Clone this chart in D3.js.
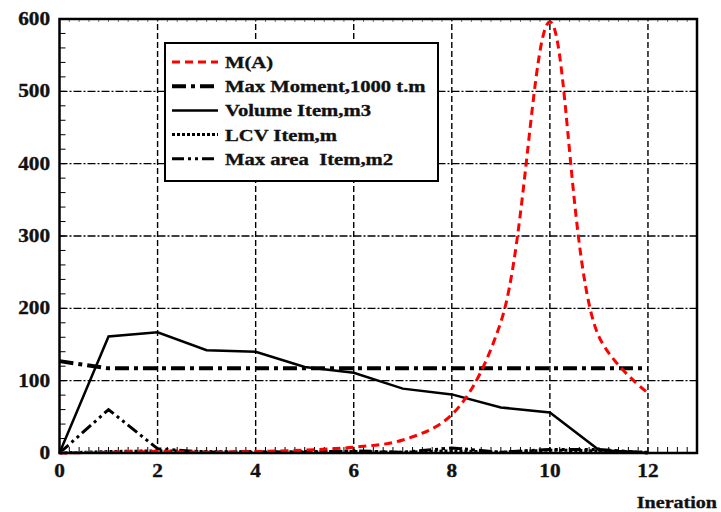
<!DOCTYPE html>
<html>
<head>
<meta charset="UTF-8">
<title>Iteration chart</title>
<script src="https://d3js.org/d3.v7.min.js"></script>
<style>
body{margin:0;background:#fff;}
text{font-family:"Liberation Serif","Times New Roman",serif;font-weight:bold;fill:#111;stroke:#111;stroke-width:0.35px;}
</style>
</head>
<body>
<svg id="chart" width="721" height="512"></svg>
<script>
// data
let iterations=[0,1,2,3,4,5,6,7,8,9,10,11,12]
let mA=[0,1,2,1,2,4,8,18,53,181,596,161,83]
let maxMoment=[127,117,117,117,117,117,117,117,117,117,117,117,117]
let volume=[0,161,167,142,140,119,111,89,81,63,56,4,0]
let lcv=[0,2,3,2,1,2,2,1,3,1,4,3,1]
let maxArea=[0,60,6,1,2,1,3,1,7,1,5,5,0]
let yTicks=[0,100,200,300,400,500,600]
let xTicks=[0,2,4,6,8,10,12]
let legendNames=["M(A)","Max Moment,1000 t.m","Volume Item,m3","LCV Item,m","Max area  Item,m2"]

let svg=d3.select("#chart")
let x=d3.scaleLinear().domain([0,13]).range([59.5,697])
let y=d3.scaleLinear().domain([0,600]).range([453,19])

// the reference font is wide, so stretch the text a bit
function label(parent,px,py,anchor,size,txt){
	let g=parent.append("g").attr("transform","translate("+px+","+py+") scale(1.18,1)")
	g.append("text").attr("text-anchor",anchor).attr("font-size",size)
		.attr("xml:space","preserve").text(txt)
}

// grid
svg.append("g").selectAll("line").data(xTicks.filter(d=>d>0)).enter().append("line")
	.attr("x1",d=>x(d)).attr("x2",d=>x(d)).attr("y1",y(0)).attr("y2",y(600))
	.attr("stroke","#000").attr("stroke-width",1.4).attr("stroke-dasharray","6,3")
svg.append("g").selectAll("line").data(yTicks.filter(d=>d>0&&d<600)).enter().append("line")
	.attr("x1",x(0)).attr("x2",x(13)).attr("y1",d=>y(d)).attr("y2",d=>y(d))
	.attr("stroke","#000").attr("stroke-width",1.4).attr("stroke-dasharray","8,2,2,2")

// minor ticks
let yMinor=d3.range(0,601,20)
svg.append("g").selectAll("line").data(yMinor).enter().append("line")
	.attr("x1",x(0)).attr("x2",x(0)+6).attr("y1",d=>y(d)).attr("y2",d=>y(d))
	.attr("stroke","#000").attr("stroke-width",1)
let xMinor=d3.range(0,13.01,0.2)
svg.append("g").selectAll("line").data(xMinor).enter().append("line")
	.attr("x1",d=>x(d)).attr("x2",d=>x(d)).attr("y1",y(0)).attr("y2",y(0)-6)
	.attr("stroke","#000").attr("stroke-width",1)
svg.append("g").selectAll("line").data(xMinor).enter().append("line")
	.attr("x1",d=>x(d)).attr("x2",d=>x(d)).attr("y1",y(600)).attr("y2",y(600)+3)
	.attr("stroke","#555").attr("stroke-width",0.8)

// series
let series=[
	{v:lcv,color:"#000",w:3,dash:"3,2",curve:d3.curveLinear},
	{v:maxArea,color:"#000",w:3,dash:"12,4,3,4,3,4",curve:d3.curveLinear},
	{v:volume,color:"#000",w:2.5,dash:null,curve:d3.curveLinear},
	{v:maxMoment,color:"#000",w:4,dash:"14,5,4,5",curve:d3.curveLinear},
	{v:mA,color:"#ff0000",w:3,dash:"8,5",curve:d3.curveCatmullRom.alpha(0.5)}
]
series.forEach(s=>{
	let line=d3.line().x((d,i)=>x(iterations[i])).y(d=>y(d)).curve(s.curve)
	svg.append("path").datum(s.v).attr("d",line).attr("fill","none")
		.attr("stroke",s.color).attr("stroke-width",s.w)
		.attr("stroke-dasharray",s.dash)
})

// frame
svg.append("rect").attr("x",x(0)).attr("y",y(600)).attr("width",x(13)-x(0)).attr("height",y(0)-y(600))
	.attr("fill","none").attr("stroke","#000").attr("stroke-width",2.5)

// tick labels
yTicks.forEach(d=>label(svg,50,y(d)+6,"end",18,d))
xTicks.forEach(d=>label(svg,x(d),477,"middle",18,d))
label(svg,717,508,"end",17,"Ineration")

// legend
let lg=svg.append("g")
lg.append("rect").attr("x",165).attr("y",43).attr("width",273).attr("height",138)
	.attr("fill","#fff").attr("stroke","#000").attr("stroke-width",2)
let legendStyles=[series[4],series[3],series[2],series[0],series[1]]
legendNames.forEach((n,i)=>{
	let yy=62+i*24.2
	let s=legendStyles[i]
	lg.append("line").attr("x1",172).attr("x2",218).attr("y1",yy).attr("y2",yy)
		.attr("stroke",s.color).attr("stroke-width",s.w).attr("stroke-dasharray",s.dash)
	label(lg,225,yy+6,"start",17.5,n)
})
</script>
</body>
</html>
